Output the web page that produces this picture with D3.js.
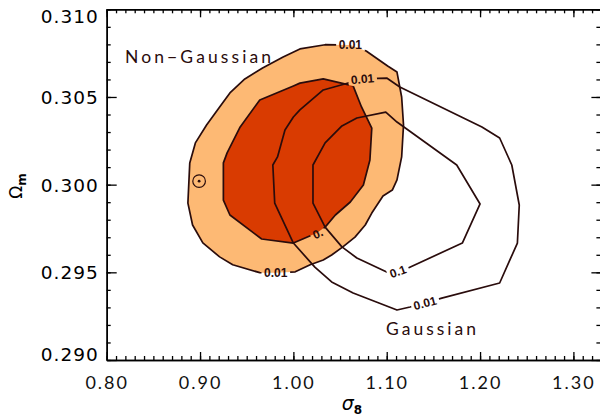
<!DOCTYPE html>
<html>
<head>
<meta charset="utf-8">
<script src="https://cdnjs.cloudflare.com/ajax/libs/d3/7.8.5/d3.min.js"></script>
<style>
  body { margin: 0; background: #fff; }
  svg { display: block; }
</style>
</head>
<body>
<div class="contours"></div>
<script>
// sigma_8 / Omega_m likelihood contours
const xTicks = [0.80, 0.90, 1.00, 1.10, 1.20, 1.30];
const yTicks = [0.290, 0.295, 0.300, 0.305, 0.310];

// non-gaussian, 0.01 level (light fill)
const ngOuter = [
  [1.078, 0.30762], [1.101, 0.30677], [1.111, 0.30642], [1.116, 0.30500], [1.118, 0.30340],
  [1.116, 0.30158], [1.111, 0.30027], [1.106, 0.29969], [1.096, 0.29935], [1.084, 0.29838],
  [1.077, 0.29770], [1.066, 0.29701], [1.053, 0.29645], [1.041, 0.29599], [1.032, 0.29570],
  [1.018, 0.29543], [1.002, 0.29503], [0.981, 0.29497], [0.964, 0.29498], [0.935, 0.29543],
  [0.921, 0.29588], [0.903, 0.29668], [0.892, 0.29770], [0.887, 0.29895], [0.889, 0.30124],
  [0.895, 0.30238], [0.907, 0.30340], [0.921, 0.30443], [0.932, 0.30523], [0.948, 0.30603],
  [0.967, 0.30665], [0.989, 0.30728], [1.007, 0.30774], [1.034, 0.30798], [1.061, 0.30796]
];

// non-gaussian, 0.1 level (dark fill)
const ngInner = [
  [1.032, 0.30603], [1.064, 0.30563], [1.073, 0.30443], [1.084, 0.30323], [1.082, 0.30141],
  [1.075, 0.29998], [1.061, 0.29901], [1.045, 0.29827], [1.034, 0.29758], [1.025, 0.29724],
  [1.000, 0.29667], [0.966, 0.29690], [0.932, 0.29827], [0.925, 0.29912], [0.925, 0.30124],
  [0.929, 0.30181], [0.943, 0.30329], [0.964, 0.30483], [1.000, 0.30563], [1.007, 0.30579]
];

// gaussian, 0.1 level
const gInner = [
  [1.099, 0.30414], [1.111, 0.30357], [1.175, 0.30112], [1.200, 0.29890], [1.181, 0.29667],
  [1.123, 0.29525], [1.111, 0.29508], [1.100, 0.29502], [1.068, 0.29582], [1.052, 0.29645],
  [1.034, 0.29758], [1.021, 0.29895], [1.021, 0.30112], [1.034, 0.30238], [1.052, 0.30335],
  [1.068, 0.30380]
];

// gaussian, 0.01 level
const gOuter = [
  [1.100, 0.30608], [1.114, 0.30557], [1.202, 0.30329], [1.221, 0.30266], [1.234, 0.30112],
  [1.242, 0.29884], [1.240, 0.29667], [1.221, 0.29439], [1.159, 0.29353], [1.141, 0.29325],
  [1.125, 0.29302], [1.111, 0.29285], [1.064, 0.29382], [1.041, 0.29445], [1.023, 0.29530],
  [1.000, 0.29667], [0.980, 0.29895], [0.978, 0.30112], [0.983, 0.30158], [0.991, 0.30312],
  [1.000, 0.30386], [1.007, 0.30426], [1.032, 0.30540], [1.055, 0.30574], [1.074, 0.30603]
];

// level labels sitting on the lines
const levelText = ['0.01', '0.01', '0.', '0.01', '0.1', '0.01'];
const levelS8 = [1.061, 0.981, 1.026, 1.074, 1.112, 1.141];
const levelOm = [0.30796, 0.29497, 0.29722, 0.30603, 0.29505, 0.29325];

const fiducial = [0.899, 0.3002];

let w = 600, h = 419;
let ink = '#2a0c0c';

let svg = d3.select('.contours').append('svg')
  .attr('width', w)
  .attr('height', h)
  .style('font-family', 'DejaVu Sans, sans-serif');

let x = d3.scaleLinear().domain([0.80, 1.33]).range([106.7, 601.4]);
let y = d3.scaleLinear().domain([0.290, 0.310]).range([360, 9.3]);

let line = d3.line()
  .x(d => x(d[0]))
  .y(d => y(d[1]))
  .curve(d3.curveLinearClosed);

// mask that cuts gaps in the lines under the level labels
let mask = svg.append('defs').append('mask')
  .attr('id', 'gaps')
  .attr('maskUnits', 'userSpaceOnUse')
  .attr('x', 0).attr('y', 0).attr('width', w).attr('height', h);
mask.append('rect').attr('width', w).attr('height', h).attr('fill', '#fff');

svg.append('path').attr('d', line(ngOuter)).attr('fill', '#fdb974');
svg.append('path').attr('d', line(ngInner)).attr('fill', '#d93b01');

let lines = svg.append('g')
  .attr('mask', 'url(#gaps)')
  .attr('fill', 'none')
  .attr('stroke', ink)
  .attr('stroke-width', 1.7)
  .attr('stroke-linejoin', 'round');

[ngOuter, ngInner, gInner, gOuter].forEach(c => {
  lines.append('path').attr('d', line(c));
});

let angles = [0, 0, -25, -5, -20, -15];

let labels = svg.append('g')
  .selectAll('text')
  .data(levelText)
  .enter().append('text')
    .attr('transform', (d, i) => `translate(${x(levelS8[i])},${y(levelOm[i])}) rotate(${angles[i]})`)
    .attr('text-anchor', 'middle')
    .attr('dy', '0.36em')
    .attr('font-family', 'Liberation Sans, Arial, sans-serif')
    .attr('font-weight', 'bold')
    .attr('font-size', 12)
    .attr('fill', ink)
    .text(d => d);

labels.each(function(d, i) {
  let b = this.getBBox();
  mask.append('rect')
    .attr('transform', d3.select(this).attr('transform'))
    .attr('x', b.x - 2.5).attr('y', b.y + 1)
    .attr('width', b.width + 5).attr('height', b.height - 2)
    .attr('fill', '#000');
});

// fiducial model
svg.append('circle')
  .attr('cx', x(fiducial[0])).attr('cy', y(fiducial[1])).attr('r', 6.3)
  .attr('fill', 'none').attr('stroke', ink).attr('stroke-width', 1.2);
svg.append('circle')
  .attr('cx', x(fiducial[0])).attr('cy', y(fiducial[1])).attr('r', 1.4)
  .attr('fill', ink);

svg.append('text')
  .attr('x', 125).attr('y', 63)
  .attr('font-family', 'Lato, sans-serif')
  .attr('font-size', 17.5)
  .attr('textLength', 146).attr('lengthAdjust', 'spacing')
  .attr('fill', ink)
  .text('Non\u2212Gaussian');

svg.append('text')
  .attr('x', 386).attr('y', 335)
  .attr('font-family', 'Lato, sans-serif')
  .attr('font-size', 17.5)
  .attr('textLength', 90).attr('lengthAdjust', 'spacing')
  .attr('fill', ink)
  .text('Gaussian');

// axes, ticks on all four sides pointing in
let xMinor = d3.range(80, 134).map(i => i / 100);
let yMinor = d3.range(290, 311).map(i => i / 1000);

function frame(axis, tx, ty) {
  let g = svg.append('g')
    .attr('transform', `translate(${tx},${ty})`)
    .call(axis);
  g.select('.domain').attr('stroke', '#000').attr('stroke-width', 1.5);
  g.selectAll('.tick line').attr('stroke', '#000').attr('stroke-width', 1.3);
  return g;
}

frame(d3.axisBottom(x).tickValues(xMinor).tickSize(-4).tickSizeOuter(0).tickFormat(''), 0, 360);
frame(d3.axisTop(x).tickValues(xMinor).tickSize(-4).tickSizeOuter(0).tickFormat(''), 0, 9.3);
frame(d3.axisLeft(y).tickValues(yMinor).tickSize(-4).tickSizeOuter(0).tickFormat(''), 106.7, 0);
frame(d3.axisRight(y).tickValues(yMinor).tickSize(-5).tickSizeOuter(0).tickFormat(''), 601.4, 0);
frame(d3.axisTop(x).tickValues(xTicks).tickSize(-8).tickSizeOuter(0).tickFormat(''), 0, 9.3);
frame(d3.axisRight(y).tickValues(yTicks).tickSize(-10).tickSizeOuter(0).tickFormat(''), 601.4, 0);

let bottom = frame(d3.axisBottom(x).tickValues(xTicks).tickSize(-8).tickSizeOuter(0)
  .tickPadding(16).tickFormat(d3.format('.2f')), 0, 360);
bottom.selectAll('text')
  .attr('font-family', 'Lato, sans-serif')
  .attr('font-weight', 400)
  .attr('font-size', 18)
  .attr('letter-spacing', 2)
  .attr('fill', '#111');

let left = frame(d3.axisLeft(y).tickValues(yTicks).tickSize(-10).tickSizeOuter(0)
  .tickPadding(8).tickFormat(d3.format('.3f')), 106.7, 0);
left.selectAll('text')
  .attr('font-family', 'DejaVu Sans, sans-serif')
  .attr('font-size', 18.5)
  .attr('letter-spacing', 1)
  .attr('fill', '#000')
  .attr('dy', (d, i) => i == 0 ? '0em' : (i == yTicks.length - 1 ? '0.73em' : '0.36em'));

// axis titles
let yt = svg.append('text')
  .attr('transform', 'translate(22,186) rotate(-90)')
  .attr('text-anchor', 'middle')
  .attr('font-size', 17)
  .attr('fill', '#000');
yt.append('tspan').text('\u03a9');
yt.append('tspan').attr('font-size', 12).attr('font-weight', 'bold').attr('dy', 4).text('m');

let xt = svg.append('text')
  .attr('x', 352).attr('y', 410)
  .attr('text-anchor', 'middle')
  .attr('font-size', 19)
  .attr('fill', '#000');
xt.append('tspan').attr('font-style', 'italic').text('\u03c3');
xt.append('tspan').attr('font-size', 12).attr('font-weight', 'bold').attr('dy', 4).text('8');
</script>
</body>
</html>
